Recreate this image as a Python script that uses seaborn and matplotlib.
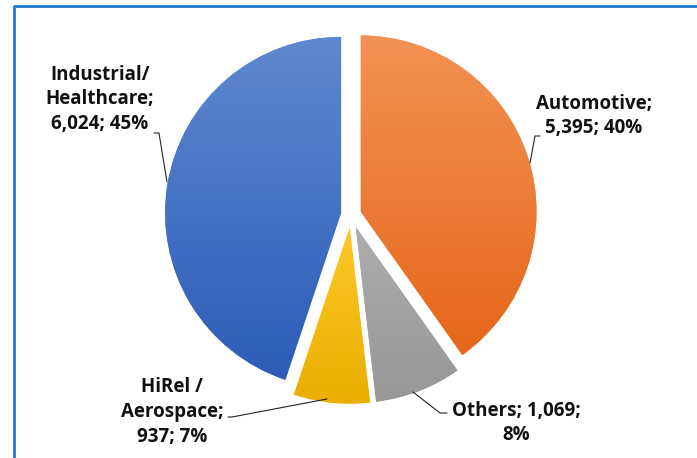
import numpy as np
import matplotlib.pyplot as plt
import seaborn as sns

sns.set_style("white")
plt.rcParams['font.family'] = ['Open Sans', 'DejaVu Sans']

# data, in drawing order (clockwise from 12 o'clock)
categories = ["Automotive", "Others", "HiRel /\nAerospace", "Industrial/\nHealthcare"]
values = [5395, 1069, 937, 6024]
top_colors = ["#F39255", "#ADADAD", "#FFC829", "#6088CE"]
bottom_colors = ["#E6661A", "#979797", "#E9AE00", "#2C5CB8"]
explode = [0.057, 0.075, 0.075, 0.057]

# layout (image pixels)
W, H = 697, 458
CX, CY, R = 351, 214.5, 176
label_pos = [(594, 116), (516, 423), (172, 412), (100, 99)]
leaders = [
    [(530, 163), (535, 136), (540, 136)],
    [(413, 392), (440, 413), (447, 413)],
    [(327, 399), (232, 417), (228, 417)],
    [(167, 182), (159, 133), (154, 133)],
]


def px(x, y):
    return (x - CX) / R, (CY - y) / R


fig = plt.figure(figsize=(W / 100, H / 100), dpi=100)
ax = fig.add_axes([0, 0, 1, 1])

wedges, _ = ax.pie(values, explode=explode, startangle=90, counterclock=False,
                   colors=top_colors, radius=1, wedgeprops=dict(linewidth=0))

# vertical gradient fill per slice
for w, c0, c1 in zip(wedges, top_colors, bottom_colors):
    v = w.get_path().vertices
    x0, x1 = v[:, 0].min(), v[:, 0].max()
    y0, y1 = v[:, 1].min(), v[:, 1].max()
    cmap = sns.blend_palette([c1, c0], as_cmap=True)
    grad = np.linspace(0, 1, 256).reshape(-1, 1)
    im = ax.imshow(grad, extent=(x0, x1, y0, y1), origin="lower", cmap=cmap,
                   aspect="auto", zorder=w.get_zorder() + 0.1)
    im.set_clip_path(w)

total = sum(values)
for name, val, (lx, ly), pts in zip(categories, values, label_pos, leaders):
    pct = round(val / total * 100)
    if name == "Others":
        txt = f"{name}; {val:,};\n{pct}%"
    else:
        txt = f"{name};\n{val:,}; {pct}%"
    tx, ty = px(lx, ly)
    ax.text(tx, ty, txt, ha="center", va="center", fontsize=13.5,
            fontweight="bold", color="#111111", linespacing=1.3)
    xs, ys = zip(*[px(x, y) for x, y in pts])
    ax.plot(xs, ys, color="#222222", lw=0.8)

# chart frame (blue border, top and left visible)
fx, fy = zip(*[px(14, H + 5), px(14, 6), px(W + 5, 6)])
ax.plot(fx, fy, color="#1F7AD0", lw=2)

x_lo, y_hi = px(0, 0)
x_hi, y_lo = px(W, H)
ax.set_xlim(x_lo, x_hi)
ax.set_ylim(y_lo, y_hi)
ax.set_aspect("auto")
ax.axis("off")

fig.savefig("out.png", dpi=100)
